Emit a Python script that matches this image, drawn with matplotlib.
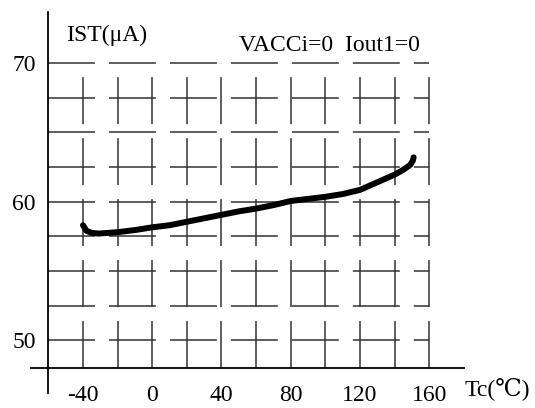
import matplotlib
matplotlib.use("Agg")
import matplotlib.pyplot as plt
import numpy as np

plt.rcParams['font.family'] = ['Liberation Serif', 'DejaVu Serif', 'DejaVu Sans']
plt.rcParams['lines.scale_dashes'] = False

# curve
temp_c = [-40, -38, -35, -31, -25, -20, -10, 0, 10, 20, 30, 40, 50, 60, 70,
          80, 90, 100, 110, 120, 130, 140, 145, 149, 150.5, 151]
ist_ua = [58.3, 57.9, 57.75, 57.7, 57.75, 57.8, 57.95, 58.15, 58.3, 58.55, 58.8,
          59.05, 59.3, 59.5, 59.75, 60.05, 60.2, 60.35, 60.55, 60.85, 61.4,
          61.95, 62.3, 62.65, 62.95, 63.2]

x_grid = np.arange(-40, 161, 20)
y_grid = np.arange(50, 70.1, 2.5)
x_ticks = [-40, 0, 40, 80, 120, 160]
y_ticks = [50, 60, 70]

fig = plt.figure(figsize=(5.35, 4.08), dpi=100)
ax = fig.add_axes([0.058, 0.037, 0.809, 0.934])
ax.set_xlim(-70, 180)
ax.set_ylim(46.2, 73.7)

# dashed grid, dashes start at the axes origin
dash = (0, (33.8, 10.1))
for x in x_grid:
    ax.plot([x, x], [48, 70], color='#333333', lw=1.1, linestyle=dash)
for y in y_grid:
    ax.plot([-60, 160], [y, y], color='#333333', lw=1.1, linestyle=dash)

ax.plot(temp_c, ist_ua, color='black', lw=4.3, solid_capstyle='round',
        solid_joinstyle='round')

for s in ['top', 'right']:
    ax.spines[s].set_visible(False)
ax.spines['left'].set_position(('data', -60))
ax.spines['bottom'].set_position(('data', 48))
ax.spines['left'].set_linewidth(1.3)
ax.spines['bottom'].set_linewidth(1.3)

ax.set_xticks(x_ticks)
ax.set_xticklabels([str(v) for v in x_ticks])
ax.set_yticks(y_ticks)
ax.set_yticklabels([str(v) for v in y_ticks])
ax.tick_params(length=0, labelsize=17)
ax.tick_params(axis='x', pad=12)
ax.tick_params(axis='y', pad=9)

ax.text(-50, 72.0, 'IST(μA)', fontsize=17, va='center', ha='left')
ax.text(50, 71.3, 'VACCi=0  Iout1=0', fontsize=17, va='center', ha='left')
ax.text(180.5, 46.55, 'Tc(℃)', fontsize=17, va='center', ha='left')

fig.savefig('out.png', dpi=100)
